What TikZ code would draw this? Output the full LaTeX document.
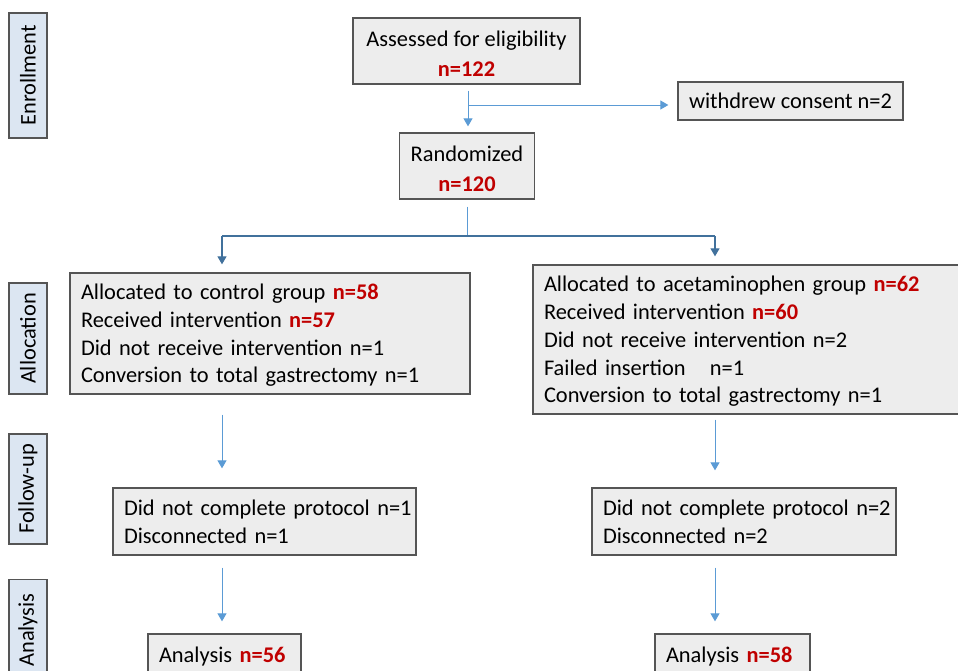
\documentclass[tikz,border=0pt]{standalone}
\usepackage{fontspec}
\setmainfont{Carlito}
\usetikzlibrary{arrows.meta}
\definecolor{boxfill}{HTML}{EDEDED}
\definecolor{boxline}{HTML}{555555}
\definecolor{labfill}{HTML}{DCE6F2}
\definecolor{nred}{HTML}{C00000}
\definecolor{arrlt}{HTML}{5B9BD5}
\definecolor{arrdk}{HTML}{41719C}
\newcommand{\redn}[1]{\textcolor{nred}{\bfseries #1}}
\newcommand{\topstrut}{\rule{0pt}{24pt}}
\begin{document}
\begin{tikzpicture}[x=1pt,y=-1pt,
  box/.style={draw=boxline, line width=1.3pt, fill=boxfill, inner xsep=11pt, inner ysep=0pt,
    font=\fontsize{22.4}{27.7}\selectfont, align=left, text=black},
  cbox/.style={box, align=center},
  lab/.style={draw=boxline, line width=1.3pt, fill=labfill, rotate=90, inner sep=0pt,
    minimum height=38pt, font=\fontsize{22.4}{26}\selectfont},
  lt/.style={draw=arrlt, line width=1pt},
  dk/.style={draw=arrdk, line width=1.2pt},
  tip/.style={-{Triangle[width=9pt,length=8pt]}}
]
\clip (0,0) rectangle (958,670);
\useasboundingbox (0,0) rectangle (958,670);

% phase labels
\node[lab, minimum width=125pt] (enr) at (28,75.5) {Enrollment};
\node[lab, minimum width=111pt] (alc) at (28,338.5) {Allocation};
\node[lab, minimum width=110pt] (fup) at (28,489) {Follow-up};
\node[lab, minimum width=101pt] (ana) at (28,630) {Analysis};

% boxes
\node[cbox, minimum width=227pt, minimum height=66pt] (assess) at (466.5,51)
  {\rule{0pt}{21pt}Assessed for eligibility\\[2pt]\redn{n=122}};
\node[cbox, minimum width=223pt, minimum height=38pt] (withdrew) at (790.5,101)
  {withdrew consent n=2};
\node[cbox, minimum width=134pt, minimum height=66pt] (rand) at (467,166)
  {\rule{0pt}{21pt}Randomized\\[2pt]\redn{n=120}};
\node[box, minimum width=400pt, text width=378pt, minimum height=121pt] (allocL) at (270,333.5)
  {\begin{tabular}{@{}l@{}}
   \topstrut Allocated to control group \redn{n=58}\\
   Received intervention \redn{n=57}\\
   Did not receive intervention n=1\\
   Conversion to total gastrectomy n=1
   \end{tabular}};
\node[box, minimum width=432pt, text width=410pt, minimum height=149pt] (allocR) at (749,339.5)
  {\begin{tabular}{@{}l@{}}
   \topstrut Allocated to acetaminophen group \redn{n=62}\\
   Received intervention \redn{n=60}\\
   Did not receive intervention n=2\\
   Failed insertion\hspace{0.75em} n=1\\
   Conversion to total gastrectomy n=1
   \end{tabular}};
\node[box, minimum width=303pt, text width=281pt, minimum height=67pt] (fuL) at (264.5,521.5)
  {\begin{tabular}{@{}l@{}}
   \topstrut Did not complete protocol n=1\\
   Disconnected n=1
   \end{tabular}};
\node[box, minimum width=304pt, text width=282pt, minimum height=67pt] (fuR) at (744,521.5)
  {\begin{tabular}{@{}l@{}}
   \topstrut Did not complete protocol n=2\\
   Disconnected n=2
   \end{tabular}};
\node[box, minimum width=153pt, text width=131pt, minimum height=46pt] (anL) at (224.5,657)
  {\begin{tabular}{@{}l@{}}Analysis \redn{n=56}\end{tabular}};
\node[box, minimum width=155pt, text width=133pt, minimum height=46pt] (anR) at (732.5,657)
  {\begin{tabular}{@{}l@{}}Analysis \redn{n=58}\end{tabular}};

% connectors
\coordinate (br1) at (468,105);
\coordinate (sp) at (467,236);
\coordinate (spL) at (222,236);
\coordinate (spR) at (715,236);

\draw[lt, tip, shorten <=6pt, shorten >=6pt] (assess.south -| br1) -- (rand.north -| br1);
\draw[lt, tip, shorten >=9pt] (br1) -- (br1 -| withdrew.west);
\draw[lt, shorten <=7pt] (rand.south -| sp) -- (sp);
\draw[dk] (spL) -- (spR);
\draw[dk, tip, shorten >=8pt] (spL) -- (spL |- allocL.north);
\draw[dk, tip, shorten >=8pt] (spR) -- (spR |- allocR.north);

\draw[lt, tip, shorten <=20pt, shorten >=19pt] (allocL.south -| spL) -- (fuL.north -| spL);
\draw[lt, tip, shorten <=5pt, shorten >=17pt] (allocR.south -| spR) -- (fuR.north -| spR);
\draw[lt, tip, shorten <=12pt, shorten >=12pt] (fuL.south -| spL) -- (anL.north -| spL);
\draw[lt, tip, shorten <=12pt, shorten >=12pt] (fuR.south -| spR) -- (anR.north -| spR);
\end{tikzpicture}
\end{document}
